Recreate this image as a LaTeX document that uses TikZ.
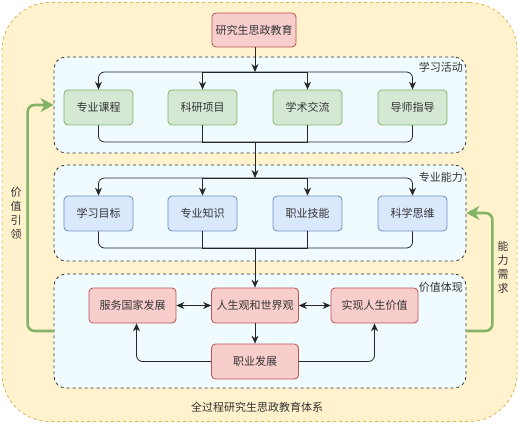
\documentclass[tikz,border=0pt]{standalone}
\usepackage{fontspec}
\setmainfont{Noto Sans CJK SC}
\usetikzlibrary{arrows.meta,positioning}
\definecolor{outerfill}{HTML}{FFF2CC}
\definecolor{outerdraw}{HTML}{D6B656}
\definecolor{grpfill}{HTML}{F0FBFF}
\definecolor{gfill}{HTML}{D5E8D4}
\definecolor{gdraw}{HTML}{82B366}
\definecolor{bfill}{HTML}{DAE8FC}
\definecolor{bdraw}{HTML}{6C8EBF}
\definecolor{rfill}{HTML}{F8CECC}
\definecolor{rdraw}{HTML}{B85450}
\definecolor{txt}{HTML}{333333}
\tikzset{
  every node/.style={font=\fontsize{11}{12}\selectfont, text=txt},
  box/.style={rounded corners=4pt, line width=0.8pt, minimum width=69pt, minimum height=35pt, inner sep=1pt},
  gbox/.style={box, fill=gfill, draw=gdraw},
  bbox/.style={box, fill=bfill, draw=bdraw},
  rbox/.style={box, fill=rfill, draw=rdraw, minimum width=87pt},
  grp/.style={draw=black!80, dashed, fill=grpfill, rounded corners=12pt, line width=0.8pt, minimum width=412pt, inner sep=0pt},
  grplabel/.style={anchor=east, inner sep=1pt},
  arr/.style={draw=black!85, line width=0.8pt, -{Stealth[length=8pt,width=7pt]}},
  biarr/.style={draw=black!85, line width=0.8pt, {Stealth[length=8pt,width=7pt]}-{Stealth[length=8pt,width=7pt]}},
  ln/.style={draw=black!85, line width=0.8pt},
  greenarr/.style={draw=gdraw, line width=2.6pt, rounded corners=7pt, -{Stealth[length=13pt,width=14pt,inset=4pt]}},
  vlabel/.style={align=center, font=\fontsize{11}{14}\selectfont}
}
\begin{document}
\begin{tikzpicture}[x=1pt,y=-1pt]
\useasboundingbox (0,0) rectangle (519,425);
% outer container
\node[draw=outerdraw, dashed, fill=outerfill, rounded corners=48pt, line width=0.8pt, minimum width=515pt, minimum height=419pt, inner sep=0pt] (outer) at (259.5,212) {};
\node (title) at (257,407) {全过程研究生思政教育体系};

% groups
\node[grp, minimum height=96pt] (grp1) at (260,105) {};
\node[grp, minimum height=96pt] (grp2) at (260,213) {};
\node[grp, minimum height=114pt] (grp3) at (260,331) {};
\node[grplabel] (l1) at (464,67) {学习活动};
\node[grplabel] (l2) at (464,177) {专业能力};
\node[grplabel] (l3) at (464,287) {价值体现};

% top node
\node[rbox, minimum width=84pt, minimum height=34pt] (top) at (254,30) {研究生思政教育};

% row 1
\node[gbox] (g1) at (98.5,107.5) {专业课程};
\node[gbox] (g2) at (202.5,107.5) {科研项目};
\node[gbox] (g3) at (307.5,107.5) {学术交流};
\node[gbox] (g4) at (412.5,107.5) {导师指导};
% row 2
\node[bbox] (b1) at (98.5,213.5) {学习目标};
\node[bbox] (b2) at (202.5,213.5) {专业知识};
\node[bbox] (b3) at (307.5,213.5) {职业技能};
\node[bbox] (b4) at (412.5,213.5) {科学思维};
% row 3
\node[rbox] (serve) at (132.5,305.5) {服务国家发展};
\node[rbox] (life) at (255,305.5) {人生观和世界观};
\node[rbox] (real) at (374.5,305.5) {实现人生价值};
\node[rbox] (job) at (255,361.5) {职业发展};

% junctions
\coordinate (j1) at (255,72);
\coordinate (j2) at (255,142);
\coordinate (j3) at (255,178);
\coordinate (j4) at (255,248);

% connectors top
\draw[arr] (top.south -| j1) -- (j1);
\foreach \n in {g1,g4}{\draw[arr, rounded corners=6pt] (j1) -| (\n.north);}
\foreach \n in {g2,g3}{\draw[arr] (j1) -| (\n.north);}
\foreach \n in {g1,g4}{\draw[ln, rounded corners=6pt] (\n.south) |- (j2);}
\foreach \n in {g2,g3}{\draw[ln] (\n.south) |- (j2);}
\draw[arr] (j2) -- (j3);
\foreach \n in {b1,b4}{\draw[arr, rounded corners=6pt] (j3) -| (\n.north);}
\foreach \n in {b2,b3}{\draw[arr] (j3) -| (\n.north);}
\foreach \n in {b1,b4}{\draw[ln, rounded corners=6pt] (\n.south) |- (j4);}
\foreach \n in {b2,b3}{\draw[ln] (\n.south) |- (j4);}
\draw[arr] (j4) -- (life.north);

% row 3 connectors
\draw[biarr] (serve.east) -- (life.west);
\draw[biarr] (life.east) -- (real.west);
\draw[arr] (life.south) -- (job.north);
\draw[arr, rounded corners=6pt] (job.west) -| ([xshift=4pt]serve.south);
\draw[arr, rounded corners=6pt] (job.east) -| (real.south);

% green feedback arrows
\draw[greenarr] (grp3.west) -- ++(-26,0) |- (grp1.west);
\draw[greenarr] (grp3.east) -- ++(26,0) |- (grp2.east);
\node[vlabel] (vl) at (16,213) {价\\值\\引\\领};
\node[vlabel] (vr) at (503,267) {能\\力\\需\\求};
\end{tikzpicture}
\end{document}
